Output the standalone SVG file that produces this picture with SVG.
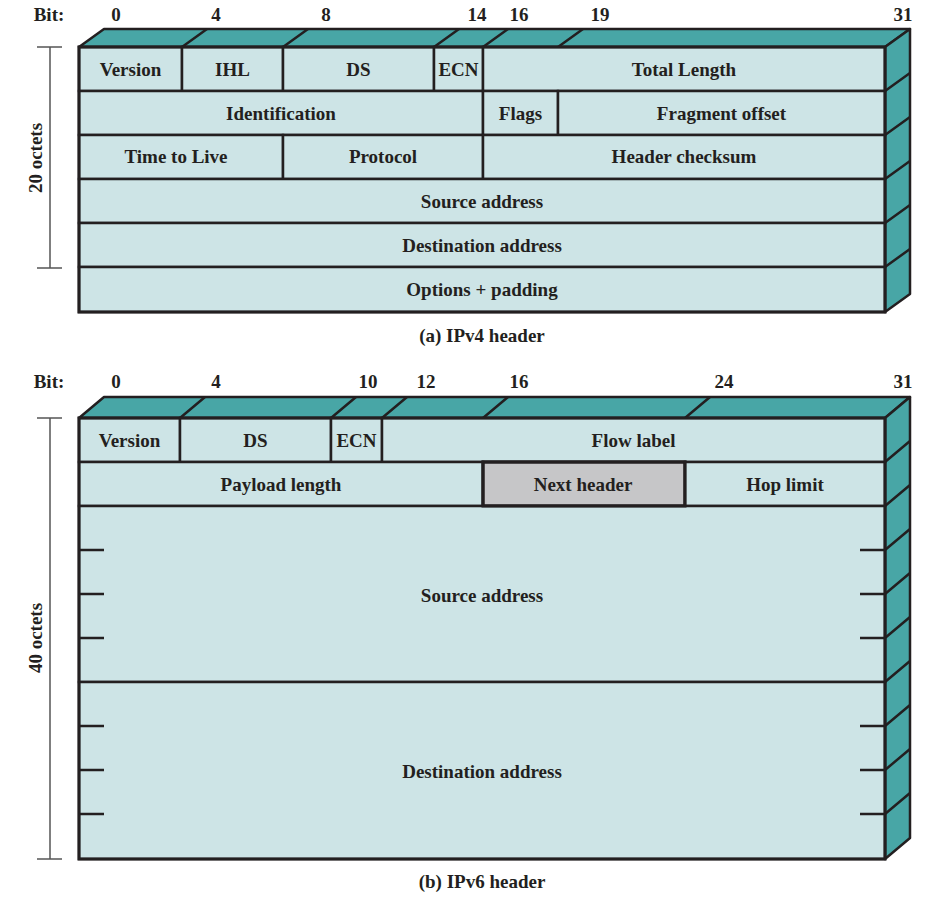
<svg xmlns="http://www.w3.org/2000/svg" width="940" height="897" viewBox="0 0 940 897">
<style>
text{font-family:"Liberation Serif","Times New Roman",serif;font-weight:bold;font-size:19px;fill:#231f20;text-anchor:middle}
.cell{fill:#cde4e6;stroke:#231f20;stroke-width:2.5}
.gray{fill:#c6c6c8;stroke:#231f20;stroke-width:3}
.face{fill:#48a6a6;stroke:#231f20;stroke-width:2.5;stroke-linejoin:round}
.ln{stroke:#231f20;stroke-width:2.5;fill:none}
.br{stroke:#555;stroke-width:1.5;fill:none}
</style>
<rect width="940" height="897" fill="#fff"/>

<!-- IPv4 -->
<g id="ipv4">
<text x="49" y="21">Bit:</text>
<text x="116" y="21">0</text>
<text x="216" y="21">4</text>
<text x="326" y="21">8</text>
<text x="477" y="21">14</text>
<text x="519" y="21">16</text>
<text x="600" y="21">19</text>
<text x="903" y="21">31</text>
<polygon class="face" points="79,47 104,29 910,29 885,47"/>
<polygon class="face" points="885,47 910,29 910,294 885,312"/>
<path class="ln" d="M182,47L207,29M283,47L308,29M434,47L459,29M483,47L508,29M558,47L583,29"/>
<path class="ln" d="M885,91L910,73M885,135L910,117M885,179L910,161M885,223L910,205M885,267L910,249"/>
<g id="v4-version"><rect class="cell" x="79" y="47" width="103" height="44"/><text x="130.5" y="76">Version</text></g>
<g id="v4-ihl"><rect class="cell" x="182" y="47" width="101" height="44"/><text x="232.5" y="76">IHL</text></g>
<g id="v4-ds"><rect class="cell" x="283" y="47" width="151" height="44"/><text x="358.5" y="76">DS</text></g>
<g id="v4-ecn"><rect class="cell" x="434" y="47" width="49" height="44"/><text x="458.5" y="76">ECN</text></g>
<g id="v4-totlen"><rect class="cell" x="483" y="47" width="402" height="44"/><text x="684" y="76">Total Length</text></g>
<g id="v4-ident"><rect class="cell" x="79" y="91" width="404" height="44"/><text x="281" y="120">Identification</text></g>
<g id="v4-flags"><rect class="cell" x="483" y="91" width="75" height="44"/><text x="520.5" y="120">Flags</text></g>
<g id="v4-frag"><rect class="cell" x="558" y="91" width="327" height="44"/><text x="721.5" y="120">Fragment offset</text></g>
<g id="v4-ttl"><rect class="cell" x="79" y="135" width="204" height="44"/><text x="176" y="163">Time to Live</text></g>
<g id="v4-proto"><rect class="cell" x="283" y="135" width="200" height="44"/><text x="383" y="163">Protocol</text></g>
<g id="v4-cksum"><rect class="cell" x="483" y="135" width="402" height="44"/><text x="684" y="163">Header checksum</text></g>
<g id="v4-src"><rect class="cell" x="79" y="179" width="806" height="44"/><text x="482" y="208">Source address</text></g>
<g id="v4-dst"><rect class="cell" x="79" y="223" width="806" height="44"/><text x="482" y="252">Destination address</text></g>
<g id="v4-opt"><rect class="cell" x="79" y="267" width="806" height="45"/><text x="482" y="296">Options + padding</text></g>
<rect class="ln" x="79" y="47" width="806" height="265" style="stroke-width:3"/>
<text x="482" y="342">(a) IPv4 header</text>
</g>

<!-- IPv6 -->
<g id="ipv6">
<text x="49" y="388">Bit:</text>
<text x="116" y="388">0</text>
<text x="216" y="388">4</text>
<text x="368" y="388">10</text>
<text x="426" y="388">12</text>
<text x="519" y="388">16</text>
<text x="724" y="388">24</text>
<text x="903" y="388">31</text>
<polygon class="face" points="79,418 104,397 910,397 885,418"/>
<polygon class="face" points="885,418 910,397 910,838 885,859"/>
<path class="ln" d="M180,418L205,397M331,418L356,397M382,418L407,397M483,418L508,397M685,418L710,397"/>
<path class="ln" d="M885,462L910,441M885,506L910,485M885,550L910,529M885,594L910,573M885,638L910,617M885,682L910,661M885,726L910,705M885,770L910,749M885,814L910,793"/>
<g id="v6-version"><rect class="cell" x="79" y="418" width="101" height="44"/><text x="129.5" y="447">Version</text></g>
<g id="v6-ds"><rect class="cell" x="180" y="418" width="151" height="44"/><text x="255.5" y="447">DS</text></g>
<g id="v6-ecn"><rect class="cell" x="331" y="418" width="51" height="44"/><text x="356.5" y="447">ECN</text></g>
<g id="v6-flow"><rect class="cell" x="382" y="418" width="503" height="44"/><text x="633.5" y="447">Flow label</text></g>
<g id="v6-paylen"><rect class="cell" x="79" y="462" width="404" height="44"/><text x="281" y="491">Payload length</text></g>
<g id="v6-next"><rect class="gray" x="483" y="462" width="202" height="44"/><text x="583" y="491">Next header</text></g>
<g id="v6-hop"><rect class="cell" x="685" y="462" width="200" height="44"/><text x="785" y="491">Hop limit</text></g>
<g id="v6-src"><rect class="cell" x="79" y="506" width="806" height="176"/>
<path class="ln" d="M79,550H104M79,594H104M79,638H104M860,550H885M860,594H885M860,638H885"/>
<text x="482" y="602">Source address</text></g>
<g id="v6-dst"><rect class="cell" x="79" y="682" width="806" height="177"/>
<path class="ln" d="M79,726H104M79,770H104M79,814H104M860,726H885M860,770H885M860,814H885"/>
<text x="482" y="778">Destination address</text></g>
<rect class="gray" x="483" y="462" width="202" height="44" style="fill:none"/>
<rect class="ln" x="79" y="418" width="806" height="441" style="stroke-width:3"/>
<text x="482" y="888">(b) IPv6 header</text>
</g>

<!-- brackets -->
<g id="connectors">
<path class="br" d="M37,47H62M50,47V268M37,268H62"/>
<path class="br" d="M37,418H62M50,418V859M37,859H62"/>
</g>
<text transform="translate(42,158) rotate(-90)">20 octets</text>
<text transform="translate(42,638) rotate(-90)">40 octets</text>
</svg>
